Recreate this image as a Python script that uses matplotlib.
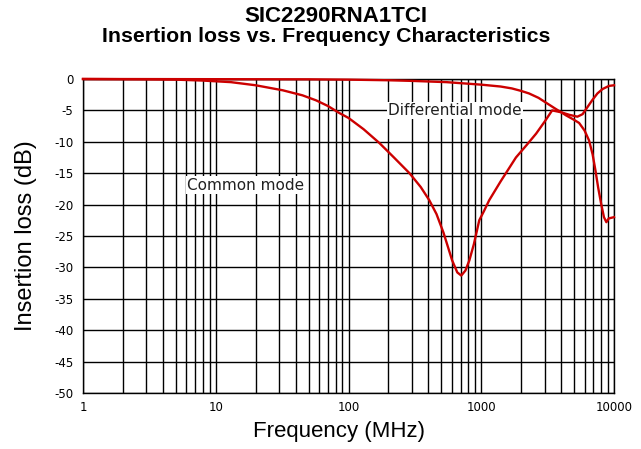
import matplotlib
matplotlib.use('Agg')

import matplotlib.pyplot as plt
from matplotlib.ticker import FixedLocator, LogLocator, NullFormatter

plt.rcParams['axes.unicode_minus'] = False

# common mode curve (MHz, dB)
common_freq = [1, 3, 5, 8, 13, 20, 32, 45, 57, 70, 85, 100, 130, 171, 220,
               288, 350, 406, 460, 520, 604, 660, 707, 760, 813, 880, 966,
               1050, 1148, 1400, 1825, 2200, 2590, 3000, 3420, 4000, 4600,
               5300, 5800, 6300, 6840, 7500, 8200, 9160, 10000]
common_db = [0, -0.05, -0.1, -0.25, -0.5, -1.0, -1.8, -2.6, -3.4, -4.3,
             -5.4, -6.2, -8.0, -10.2, -12.5, -15.0, -17.2, -19.3, -21.5,
             -24.5, -28.9, -30.8, -31.3, -30.5, -28.9, -26.3, -22.5, -21.0,
             -19.3, -16.3, -12.5, -10.5, -8.7, -6.8, -5.0, -5.3, -5.7, -6.0,
             -5.6, -4.5, -3.4, -2.3, -1.6, -1.1, -1.0]

# differential mode curve (MHz, dB)
diff_freq = [1, 50, 100, 200, 300, 547, 1000, 1400, 1700, 2000, 2290, 2700,
             3090, 3600, 4360, 5000, 5460, 6000, 6490, 6900, 7240, 7600,
             7990, 8400, 8760, 9130, 10000]
diff_db = [0, -0.05, -0.1, -0.2, -0.3, -0.5, -0.9, -1.2, -1.5, -1.9, -2.3,
           -3.0, -3.8, -4.7, -5.8, -6.5, -7.0, -8.2, -9.8, -12.0, -14.5,
           -17.3, -19.8, -22.0, -22.8, -22.2, -22.0]

y_ticks = [0, -5, -10, -15, -20, -25, -30, -35, -40, -45, -50]
x_ticks = [1, 10, 100, 1000, 10000]

fig = plt.figure(figsize=(6.41, 4.49), dpi=100)
ax = fig.add_axes([83 / 641, 1 - 393 / 449, (614 - 83) / 641, (393 - 79) / 449])

ax.set_xscale('log')
ax.set_xlim(1, 10000)
ax.set_ylim(-50, 0)

ax.xaxis.set_major_locator(FixedLocator(x_ticks))
ax.set_xticklabels([str(t) for t in x_ticks])
ax.xaxis.set_minor_locator(LogLocator(base=10, subs=range(2, 10)))
ax.xaxis.set_minor_formatter(NullFormatter())
ax.set_yticks(y_ticks)
ax.set_yticklabels([str(t) for t in y_ticks])

ax.grid(True, which='both', axis='x', color='black', linewidth=1.0)
ax.grid(True, which='major', axis='y', color='black', linewidth=1.0)
ax.tick_params(which='both', length=0, labelsize=8.5)
ax.tick_params(axis='y', pad=7)
ax.tick_params(axis='x', pad=6)
for lab in ax.get_xticklabels() + ax.get_yticklabels():
    lab.set_family('DejaVu Sans')
for s in ax.spines.values():
    s.set_color('black')
    s.set_linewidth(1.0)

red = '#cc0000'
ax.plot(common_freq, common_db, color=red, linewidth=1.7, zorder=3, clip_on=False)
ax.plot(diff_freq, diff_db, color=red, linewidth=1.7, zorder=3, clip_on=False)

ax.text(16.8, -16.9, 'Common mode', ha='center', va='center', fontsize=11,
        family='DejaVu Sans', color='#202020',
        bbox=dict(facecolor='white', edgecolor='none', pad=1), zorder=4)
ax.text(633, -5.0, 'Differential mode', ha='center', va='center', fontsize=11,
        family='DejaVu Sans', color='#202020',
        bbox=dict(facecolor='white', edgecolor='none', pad=1), zorder=4)

fig.text(336 / 641, 1 - 17 / 449, 'SIC2290RNA1TCI', ha='center', va='center',
         fontsize=16, fontweight='bold', family='Liberation Sans')
fig.text(326 / 641, 1 - 37 / 449, 'Insertion loss vs. Frequency Characteristics',
         ha='center', va='center', fontsize=15.3, fontweight='bold',
         family='Liberation Sans')

fig.text(339 / 641, 1 - 432 / 449, 'Frequency (MHz)', ha='center', va='center',
         fontsize=16, family='Liberation Sans')
fig.text(26 / 641, 1 - 236 / 449, 'Insertion loss (dB)', ha='center', va='center',
         rotation=90, fontsize=17, family='Liberation Sans')

fig.savefig('out.png', dpi=100)
